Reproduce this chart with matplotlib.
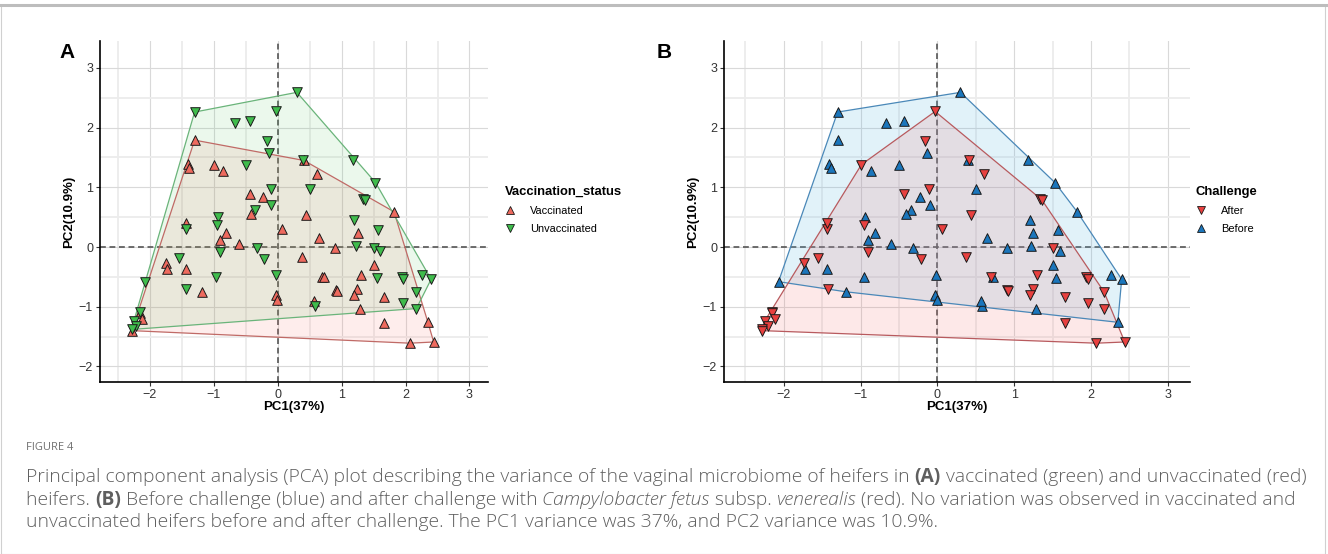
import numpy as np
import matplotlib
matplotlib.use("Agg")
import matplotlib.pyplot as plt
from matplotlib.lines import Line2D
from matplotlib.patches import Polygon, Rectangle

# --- data (same samples in both panels) ---
pc1 = [-1.30, -0.67, -0.44, -0.03, -0.16, -0.14, -0.50, -0.11, -0.10, -0.35,
       -0.94, -0.95, -1.44, -0.90, -0.32, -0.21, -1.55, -0.96, -0.02, -2.07,
       -1.43, -2.16, -2.25, -2.21, -2.28,
       -1.30, -1.41, -1.39, -0.99, -0.86, -0.43, -0.23, -0.41, 0.06, -1.44,
       -0.81, -0.90, -0.60, -1.74, -1.73, -1.44, -1.19, -0.03, -0.01,
       -2.16, -2.12, -2.28,
       0.30, 0.40, 1.18, 1.53, 0.50, 1.34, 1.36, 1.20, 1.57, 1.22,
       1.50, 1.60, 1.55, 1.94, 1.96, 2.26, 2.40, 2.17, 1.96, 2.17, 0.58,
       0.41, 0.61, 0.44, 0.65, 0.90, 0.375, 1.82, 1.25, 1.50, 0.70,
       0.72, 1.30, 0.91, 0.92, 1.24, 1.20, 1.66, 0.57, 1.29, 1.66,
       2.35, 2.07, 2.44]
pc2 = [2.26, 2.08, 2.11, 2.27, 1.77, 1.58, 1.38, 0.98, 0.70, 0.62,
       0.51, 0.37, 0.30, -0.08, -0.01, -0.20, -0.19, -0.51, -0.46, -0.58,
       -0.71, -1.08, -1.24, -1.32, -1.38,
       1.79, 1.39, 1.33, 1.38, 1.28, 0.89, 0.83, 0.55, 0.31, 0.40,
       0.24, 0.11, 0.05, -0.27, -0.37, -0.36, -0.75, -0.80, -0.89,
       -1.11, -1.20, -1.40,
       2.59, 1.45, 1.46, 1.08, 0.98, 0.81, 0.79, 0.46, 0.28, 0.01,
       -0.01, -0.07, -0.52, -0.51, -0.54, -0.47, -0.54, -0.75, -0.93, -1.03, -0.98,
       1.45, 1.23, 0.54, 0.15, -0.01, -0.16, 0.59, 0.24, -0.30, -0.50,
       -0.51, -0.47, -0.72, -0.74, -0.70, -0.80, -0.84, -0.91, -1.03, -1.28,
       -1.26, -1.61, -1.59]
vaccination = (["Unvaccinated"] * 25 + ["Vaccinated"] * 22
               + ["Unvaccinated"] * 21 + ["Vaccinated"] * 23)
challenge = (["Before", "Before", "Before", "After", "After", "Before", "Before", "After",
              "Before", "Before", "Before", "After", "After", "After", "Before", "After",
              "After", "Before", "Before", "Before", "After", "After", "After", "After", "After"]
             + ["Before", "Before", "Before", "After", "Before", "After", "Before", "Before",
                "After", "After", "Before", "Before", "Before", "After", "Before", "Before",
                "Before", "Before", "Before", "After", "After", "After"]
             + ["Before", "Before", "Before", "Before", "Before", "After", "After", "Before",
                "Before", "Before", "After", "Before", "Before", "After", "After", "Before",
                "Before", "After", "After", "After", "Before"]
             + ["After", "After", "After", "Before", "Before", "After", "Before", "Before",
                "Before", "After", "Before", "After", "After", "After", "After", "After",
                "After", "Before", "Before", "After", "Before", "After", "After"])

pc1 = np.array(pc1)
pc2 = np.array(pc2)
vaccination = np.array(vaccination)
challenge = np.array(challenge)

FONT = ["Liberation Sans", "DejaVu Sans"]
plt.rcParams["font.family"] = FONT


def convex_hull(pts):
    pts = sorted(set(map(tuple, pts)))
    def cross(o, a, b):
        return (a[0] - o[0]) * (b[1] - o[1]) - (a[1] - o[1]) * (b[0] - o[0])
    lower, upper = [], []
    for p in pts:
        while len(lower) >= 2 and cross(lower[-2], lower[-1], p) <= 0:
            lower.pop()
        lower.append(p)
    for p in reversed(pts):
        while len(upper) >= 2 and cross(upper[-2], upper[-1], p) <= 0:
            upper.pop()
        upper.append(p)
    return np.array(lower[:-1] + upper[:-1])


def setup_axes(ax):
    ax.set_xlim(-2.78, 3.29)
    ax.set_ylim(-2.26, 3.45)
    ax.set_xticks(range(-2, 4))
    ax.set_yticks(range(-2, 4))
    ax.set_xticks(np.arange(-2.5, 3.3, 1.0), minor=True)
    ax.set_yticks(np.arange(-1.5, 3.3, 1.0), minor=True)
    ax.grid(which="major", color="#d9d9d9", lw=0.8)
    ax.grid(which="minor", color="#ececec", lw=1.3)
    ax.tick_params(which="minor", length=0)
    ax.tick_params(which="major", length=3, width=0.8, color="#333333",
                   labelsize=9, labelcolor="#333333", pad=2)
    for s in ["top", "right"]:
        ax.spines[s].set_visible(False)
    for s in ["left", "bottom"]:
        ax.spines[s].set_linewidth(1.2)
        ax.spines[s].set_color("black")
    ax.set_axisbelow(True)
    ax.axhline(0, color="#555555", lw=1.2, ls=(0, (3.5, 2.2)), zorder=1.5)
    ax.axvline(0, color="#555555", lw=1.2, ls=(0, (3.5, 2.2)), zorder=1.5)
    ax.set_xlabel("PC1(37%)", fontsize=9.5, fontweight="bold", labelpad=0)
    ax.set_ylabel("PC2(10.9%)", fontsize=9.5, fontweight="bold", labelpad=3)


def draw_group(ax, mask, fill, alpha, edge):
    hull = convex_hull(np.column_stack([pc1[mask], pc2[mask]]))
    ax.add_patch(Polygon(hull, closed=True, facecolor=fill, alpha=alpha,
                         edgecolor="none", zorder=2))
    ax.add_patch(Polygon(hull, closed=True, facecolor="none", edgecolor=edge,
                         lw=0.9, zorder=2.1))


def draw_points(ax, mask, color, marker):
    ax.scatter(pc1[mask], pc2[mask], marker=marker, s=48, c=color,
               edgecolors="#1a1a1a", linewidths=0.7, zorder=3)


fig = plt.figure(figsize=(13.28, 5.54), dpi=100)
W, H = 1328, 554

axA = fig.add_axes([100 / W, 1 - 382 / H, 388 / W, 341 / H])
axB = fig.add_axes([724 / W, 1 - 382 / H, 466 / W, 341 / H])

# panel A: vaccination status
red_a, green_a = "#EE6A5E", "#3FBC4C"
vac = vaccination == "Vaccinated"
unv = vaccination == "Unvaccinated"
setup_axes(axA)
draw_group(axA, vac, "#F8766D", 0.13, "#C06A66")
draw_group(axA, unv, "#4CC05A", 0.11, "#6AB47A")
draw_points(axA, vac, red_a, "^")
draw_points(axA, unv, green_a, "v")

# panel B: challenge
red_b, blue_b = "#E8403F", "#1B76BC"
aft = challenge == "After"
bef = challenge == "Before"
setup_axes(axB)
draw_group(axB, bef, "#5DB7E3", 0.18, "#4A88B8")
draw_group(axB, aft, "#F26A6A", 0.15, "#B85A5E")
draw_points(axB, bef, blue_b, "^")
draw_points(axB, aft, red_b, "v")

# panel letters
fig.text(67 / W, 1 - 52 / H, "A", fontsize=15, fontweight="bold", ha="center", va="center")
fig.text(664 / W, 1 - 52 / H, "B", fontsize=15, fontweight="bold", ha="center", va="center")


# legends
def add_legend(x, y, title, labels, colors, markers):
    handles = [Line2D([], [], ls="none", marker=m, markersize=6.2, markerfacecolor=c,
                      markeredgecolor="#1a1a1a", markeredgewidth=0.6)
               for c, m in zip(colors, markers)]
    leg = fig.legend(handles, labels, title=title, loc="upper left",
                     bbox_to_anchor=(x / W, 1 - y / H), frameon=False,
                     fontsize=7.9, title_fontproperties={"weight": "bold", "size": 9.4},
                     handlelength=1.0, handletextpad=1.3, labelspacing=0.7,
                     borderaxespad=0, borderpad=0, alignment="left")
    leg._legend_box.sep = 6
    return leg


add_legend(505, 186, "Vaccination_status", ["Vaccinated", "Unvaccinated"],
           [red_a, green_a], ["^", "v"])
add_legend(1196, 186, "Challenge", ["After", "Before"], [red_b, blue_b], ["v", "^"])

# frame around the figure panel
fig.add_artist(Rectangle((1 / W, 0), 1324 / W, 1 - 5 / H, transform=fig.transFigure,
                         fill=False, edgecolor="#d0d0d0", lw=0.8))
fig.add_artist(Line2D([0, 1], [1 - 4.5 / H, 1 - 4.5 / H], transform=fig.transFigure,
                      color="#bdbdbd", lw=2.2))

# caption
CAP = ["Open Sans", "DejaVu Sans"]
cap_color = "#5f5f5f"
fig.text(26 / W, 1 - 448 / H, "FIGURE 4", fontsize=8.0, color="#707070",
         family=CAP, va="center")

lines = [
    [("Principal component analysis (PCA) plot describing the variance of the vaginal "
      "microbiome of heifers in ", "light", "normal"), ("(A)", "bold", "normal"),
     (" vaccinated (green) and unvaccinated (red)", "light", "normal")],
    [("heifers. ", "light", "normal"), ("(B)", "bold", "normal"),
     (" Before challenge (blue) and after challenge with ", "light", "normal"),
     ("Campylobacter fetus", "light", "italic"), (" subsp. ", "light", "normal"),
     ("venerealis", "light", "italic"),
     (" (red). No variation was observed in vaccinated and", "light", "normal")],
    [("unvaccinated heifers before and after challenge. The PC1 variance was 37%, "
      "and PC2 variance was 10.9%.", "light", "normal")],
]
line_y = [477, 500, 522]

renderer = fig.canvas.get_renderer()


def run_width(text, weight, style, size):
    t = fig.text(0, 0, text, fontsize=size, family=CAP, fontweight=weight, fontstyle=style)
    w = t.get_window_extent(renderer).width
    t.remove()
    return w


# scale the caption font so the first line spans the same width as the reference
base = 11.0
w0 = sum(run_width(t, wt, st, base) for t, wt, st in lines[0])
cap_size = base * (1277 / w0)

for runs, yy in zip(lines, line_y):
    x = 26.0
    for text, weight, style in runs:
        t = fig.text(x / W, 1 - yy / H, text, fontsize=cap_size, family=CAP,
                     fontweight=weight, fontstyle=style, color=cap_color, va="center")
        x += t.get_window_extent(renderer).width

fig.savefig("out.png", dpi=100)
